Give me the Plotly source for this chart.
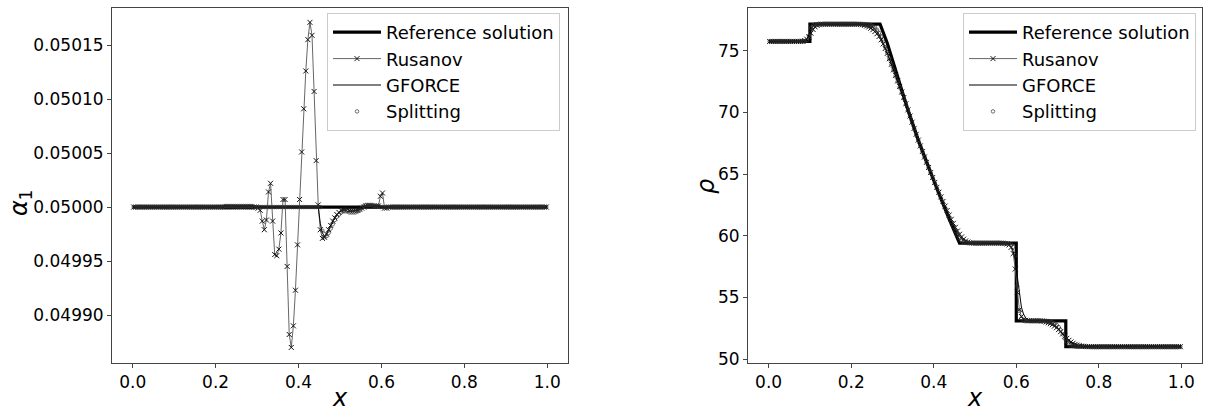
import numpy as np
import plotly.graph_objects as go

# ---------------- data ----------------
N_CELLS = 200
X_CELLS = (np.arange(N_CELLS) + 0.5) / N_CELLS

# Left panel: alpha_1
ALPHA_REF_X = [0.0, 1.0]
ALPHA_REF = [0.05, 0.05]

ALPHA_RUSANOV = [0.05] * 60 + [
    0.049999, 0.049997, 0.049987, 0.049979, 0.049988, 0.050014, 0.050022, 0.049987,
    0.049956, 0.049955, 0.049961, 0.049976, 0.050007, 0.050007, 0.049945, 0.049882,
    0.049870, 0.049890, 0.049923, 0.049965, 0.050007, 0.050051, 0.050091, 0.050126,
    0.050155, 0.050171, 0.050159, 0.050107, 0.050043, 0.050002, 0.049979, 0.049971,
    0.049972, 0.049975, 0.049979, 0.049983, 0.049987, 0.049990, 0.049993, 0.049995,
    0.049997, 0.049998, 0.049998, 0.049998, 0.049997, 0.049997, 0.049997, 0.049997,
    0.049997, 0.049998, 0.049999, 0.050000, 0.050001, 0.050001, 0.050001, 0.050001,
    0.050001, 0.050001, 0.050001, 0.050010, 0.050013, 0.049999, 0.049999,
] + [0.05] * 77

ALPHA_GFORCE = [0.05] * 40 + [0.050001] * 18 + [0.05] * 32 + [
    0.049985, 0.049976, 0.049973, 0.049975, 0.049979, 0.049983, 0.049987, 0.049990,
    0.049993, 0.049995, 0.049996, 0.049997, 0.049997, 0.049996, 0.049996, 0.049996,
    0.049996, 0.049997, 0.049998, 0.049999, 0.050000, 0.050001, 0.050001, 0.050001,
    0.050001, 0.050001, 0.050001, 0.050001, 0.050001, 0.050001,
] + [0.05] * 80

ALPHA_SPLITTING = [0.05] * 44 + [0.050001] * 14 + [0.05] * 33 + [
    0.049978, 0.049972, 0.049973, 0.049976, 0.049980, 0.049984, 0.049988, 0.049991,
    0.049993, 0.049995, 0.049996, 0.049996, 0.049996, 0.049995, 0.049995, 0.049995,
    0.049995, 0.049996, 0.049997, 0.049999, 0.050001, 0.050002, 0.050002, 0.050002,
    0.050002, 0.050001, 0.050001, 0.050001, 0.050000,
] + [0.05] * 80

# Right panel: rho
RHO_REF_X = [0.0, 0.1, 0.1, 0.27, 0.2875, 0.3125, 0.3375, 0.3625, 0.3875, 0.4125,
             0.4375, 0.4625, 0.6, 0.6, 0.72, 0.72, 1.0]
RHO_REF = [75.75, 75.75, 77.15, 77.15, 75.6, 72.85, 70.2, 67.75, 65.5, 63.4,
           61.35, 59.4, 59.4, 53.1, 53.1, 51.0, 51.0]

RHO_RUSANOV = [75.75] * 16 + [
    75.77, 75.82, 75.93, 76.12, 76.42, 76.72, 76.93, 77.05, 77.11,
] + [77.15] * 19 + [
    77.13, 77.1, 77.06, 77.0, 76.92, 76.82, 76.7, 76.55, 76.37, 76.15,
    75.88, 75.55, 75.18, 74.78, 74.35, 73.9, 73.45, 73.0, 72.55, 72.1,
    71.65, 71.2, 70.7, 70.2, 69.7, 69.2, 68.7, 68.22, 67.75, 67.28,
    66.83, 66.38, 65.95, 65.53, 65.12, 64.72, 64.32, 63.92, 63.53, 63.15,
    62.78, 62.4, 62.04, 61.68, 61.33, 61.0, 60.68, 60.38, 60.12, 59.9,
    59.72, 59.58, 59.49, 59.44, 59.41,
] + [59.4] * 14 + [
    59.39, 59.37, 59.33, 59.25, 59.05, 58.55, 57.3, 55.4, 54.0, 53.45, 53.22, 53.14,
] + [53.1] * 7 + [
    53.08, 53.05, 53.0, 52.94, 52.87, 52.78, 52.67, 52.54, 52.39, 52.22,
    52.04, 51.86, 51.68, 51.52, 51.39, 51.28, 51.19, 51.13, 51.08, 51.05,
    51.03, 51.02, 51.01,
] + [51.0] * 45

RHO_GFORCE = [75.75] * 17 + [
    75.8, 75.95, 76.3, 76.75, 77.0, 77.1,
] + [77.15] * 23 + [
    77.13, 77.1, 77.05, 76.98, 76.88, 76.74, 76.56, 76.32, 76.02, 75.66,
    75.26, 74.82, 74.36, 73.9, 73.44,
    72.98, 72.52, 72.07, 71.62, 71.17, 70.68, 70.19, 69.69, 69.2, 68.71,
    68.23, 67.76, 67.3, 66.84, 66.38, 65.94, 65.52, 65.1, 64.69, 64.28,
    63.87, 63.47, 63.08, 62.69, 62.3, 61.92, 61.55, 61.18, 60.83, 60.5,
    60.2, 59.94, 59.74, 59.59, 59.49, 59.44, 59.41,
] + [59.4] * 16 + [
    59.38, 59.34, 59.26, 59.1, 58.75, 58.0, 56.7, 55.2, 54.2, 53.65, 53.35, 53.2, 53.13,
] + [53.1] * 7 + [
    53.07, 53.03, 52.97, 52.89, 52.78, 52.64, 52.46, 52.25, 52.02, 51.8,
    51.6, 51.43, 51.3, 51.2, 51.13, 51.08, 51.05, 51.03, 51.01,
] + [51.0] * 47

RHO_SPLITTING = [75.75] * 18 + [
    75.85, 76.2, 76.85, 77.08,
] + [77.15] * 26 + [
    77.13, 77.08, 77.0, 76.88, 76.7, 76.45, 76.12, 75.72, 75.28, 74.82,
    74.35, 73.88, 73.42, 72.96,
    72.5, 72.04, 71.58, 71.12, 70.64, 70.16, 69.67, 69.18, 68.7, 68.22,
    67.75, 67.29, 66.83, 66.38, 65.94, 65.51, 65.09, 64.68, 64.27, 63.86,
    63.46, 63.06, 62.66, 62.27, 61.88, 61.49, 61.11, 60.74, 60.38, 60.05,
    59.78, 59.58, 59.47, 59.42,
] + [59.4] * 19 + [
    59.38, 59.35, 59.28, 59.1, 58.4, 55.9, 53.9, 53.3, 53.15,
] + [53.1] * 11 + [
    53.08, 53.04, 52.98, 52.9, 52.78, 52.6, 52.35, 52.0, 51.65, 51.38,
    51.2, 51.1, 51.05, 51.02,
] + [51.0] * 51

SERIES_NAMES = ["Reference solution", "Rusanov", "GFORCE", "Splitting"]

# ---------------- figure ----------------
W, H = 1205, 412
FONT = "DejaVu Sans"
AX_COL = "#444444"


def px_x(p):
    return p / W


def px_y(p):
    return 1 - p / H


fig = go.Figure()


def add_panel(xa, ya, legend_name, ref_x, ref_y, rus, gf, spl):
    fig.add_trace(go.Scatter(
        x=ref_x, y=ref_y, mode="lines", name=SERIES_NAMES[0],
        line=dict(color="black", width=3.2),
        xaxis=xa, yaxis=ya, legend=legend_name))
    fig.add_trace(go.Scatter(
        x=X_CELLS, y=rus, mode="lines+markers", name=SERIES_NAMES[1],
        line=dict(color="#555555", width=0.9),
        marker=dict(symbol="x-thin", size=5, color="black",
                    line=dict(color="#111111", width=1)),
        xaxis=xa, yaxis=ya, legend=legend_name))
    fig.add_trace(go.Scatter(
        x=X_CELLS, y=gf, mode="lines", name=SERIES_NAMES[2],
        line=dict(color="black", width=1),
        xaxis=xa, yaxis=ya, legend=legend_name))
    fig.add_trace(go.Scatter(
        x=X_CELLS, y=spl, mode="markers", name=SERIES_NAMES[3],
        marker=dict(symbol="circle-open", size=3.5, color="#333333",
                    line=dict(color="#333333", width=0.7)),
        xaxis=xa, yaxis=ya, legend=legend_name))


add_panel("x", "y", "legend", ALPHA_REF_X, ALPHA_REF,
          ALPHA_RUSANOV, ALPHA_GFORCE, ALPHA_SPLITTING)
add_panel("x2", "y2", "legend2", RHO_REF_X, RHO_REF,
          RHO_RUSANOV, RHO_GFORCE, RHO_SPLITTING)

axis_common = dict(
    showgrid=False, zeroline=False, showline=True, mirror=True,
    linecolor=AX_COL, linewidth=1, ticks="outside", ticklen=4,
    tickcolor=AX_COL, tickwidth=1, automargin=False,
    tickfont=dict(family=FONT, size=17, color="black"),
)

legend_common = dict(
    yanchor="top", y=px_y(13), xanchor="right",
    bgcolor="white", bordercolor="#cccccc", borderwidth=1,
    font=dict(family=FONT, size=18, color="black"),
    itemwidth=48, tracegroupgap=0,
)

fig.update_layout(
    width=W, height=H,
    margin=dict(l=0, r=0, t=0, b=0, pad=0),
    paper_bgcolor="white", plot_bgcolor="white",
    font=dict(family=FONT, color="black"),
    xaxis=dict(domain=[px_x(112), px_x(568)], range=[-0.05, 1.05],
               dtick=0.2, tick0=0, tickformat=".1f", anchor="y", **axis_common),
    yaxis=dict(domain=[px_y(363), px_y(8)], range=[0.0498556, 0.0501843],
               tickvals=[0.04990, 0.04995, 0.05000, 0.05005, 0.05010, 0.05015],
               tickformat=".5f", anchor="x", **axis_common),
    xaxis2=dict(domain=[px_x(748), px_x(1202)], range=[-0.05, 1.05],
                dtick=0.2, tick0=0, tickformat=".1f", anchor="y2", **axis_common),
    yaxis2=dict(domain=[px_y(363), px_y(8)], range=[49.68, 78.46],
                tickvals=[50, 55, 60, 65, 70, 75], anchor="x2", **axis_common),
    legend=dict(x=px_x(560), **legend_common),
    legend2=dict(x=px_x(1196), **legend_common),
    showlegend=True,
)

# axis titles
title_font = dict(family=FONT, size=24, color="black")
fig.add_annotation(text="<i>x</i>", x=px_x(340), y=-2 / H, xref="paper", yref="paper",
                   showarrow=False, font=title_font,
                   xanchor="center", yanchor="bottom")
fig.add_annotation(text="<i>x</i>", x=px_x(975), y=-2 / H, xref="paper", yref="paper",
                   showarrow=False, font=title_font,
                   xanchor="center", yanchor="bottom")
fig.add_annotation(text="<i>α</i><sub>1</sub>", x=px_x(20), y=px_y(203), xref="paper",
                   yref="paper", showarrow=False, textangle=-90,
                   font=title_font, xanchor="center", yanchor="middle")
fig.add_annotation(text="<i>ρ</i>", x=px_x(706), y=px_y(187), xref="paper", yref="paper",
                   showarrow=False, textangle=-90, font=title_font,
                   xanchor="center", yanchor="middle")

fig.write_html("out.html",
               config={"displayModeBar": False},
               post_script="document.body.style.margin='0';document.body.style.padding='0';")
